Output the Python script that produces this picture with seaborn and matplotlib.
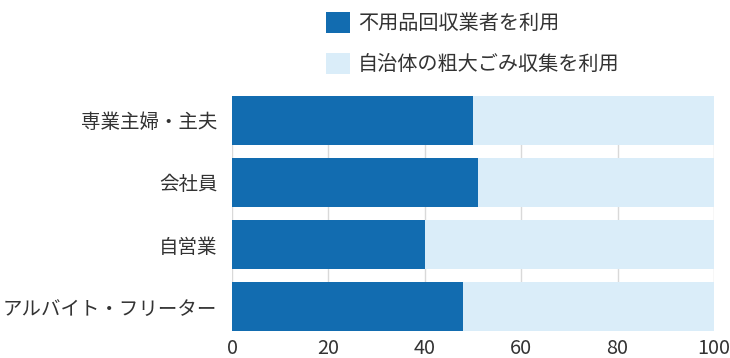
import pandas as pd
import seaborn as sns
import matplotlib.pyplot as plt
from matplotlib.patches import Patch

# data (percent)
categories = ['専業主婦・主夫', '会社員', '自営業', 'アルバイト・フリーター']
kaishu = [50, 51, 40, 48]          # 不用品回収業者を利用
sodai = [50, 49, 60, 52]           # 自治体の粗大ごみ収集を利用
series_names = ['不用品回収業者を利用', '自治体の粗大ごみ収集を利用']
xticks = [0, 20, 40, 60, 80, 100]

dark = '#126cb0'
light = '#daedf9'

sns.set_style('white')
plt.rcParams['font.family'] = ['Noto Sans CJK JP', 'DejaVu Sans']

df = pd.DataFrame({'cat': categories, 'a': kaishu, 'b': sodai})
df['total'] = df['a'] + df['b']

fig = plt.figure(figsize=(7.3, 3.58), dpi=100)
ax = fig.add_axes([232 / 730, 27 / 358, 482 / 730, 235 / 358])

w = 0.79
sns.barplot(data=df, x='total', y='cat', color=light, width=w, ax=ax,
            saturation=1, linewidth=0, zorder=2)
sns.barplot(data=df, x='a', y='cat', color=dark, width=w, ax=ax,
            saturation=1, linewidth=0, zorder=3)

ax.set_xlim(0, 100)
ax.set_ylim(3 + w / 2, -w / 2)
ax.set_xticks(xticks)
ax.grid(axis='x', color='#d9d9d9', linewidth=1, zorder=0)
ax.grid(axis='y', visible=False)
ax.set_axisbelow(True)
for s in ax.spines.values():
    s.set_visible(False)
ax.set_xlabel('')
ax.set_ylabel('')
ax.tick_params(axis='both', length=0, colors='#333333')
ax.tick_params(axis='x', labelsize=14.3, pad=5)
ax.tick_params(axis='y', labelsize=14.0, pad=10.5)

handles = [Patch(facecolor=dark, edgecolor='none'), Patch(facecolor=light, edgecolor='none')]
fig.legend(handles, series_names, loc='upper left',
           bbox_to_anchor=(326 / 730, 1 - 12 / 358), frameon=False,
           fontsize=14.5, handlelength=1.2, handleheight=1.2,
           handletextpad=0.4, labelspacing=0.95, borderpad=0,
           borderaxespad=0, labelcolor='#333333')

fig.savefig('out.png', dpi=100)
